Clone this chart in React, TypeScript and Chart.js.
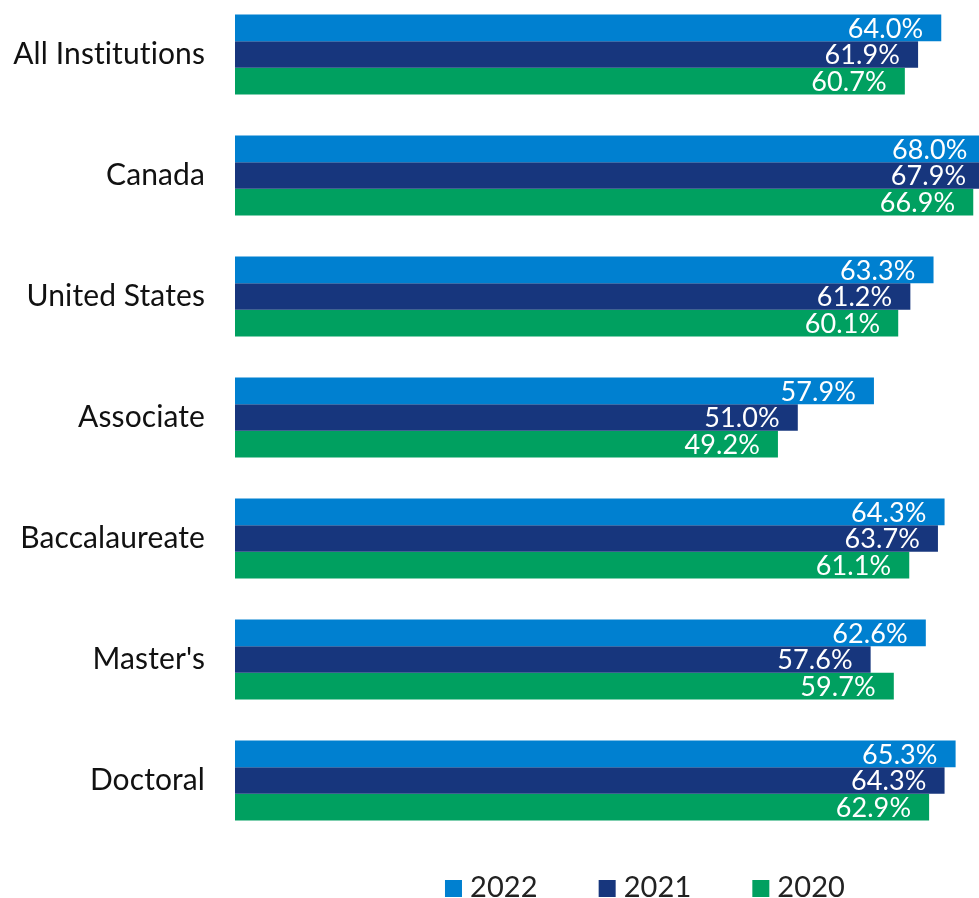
import React, { useEffect, useRef } from "react";
import { Chart, registerables } from "chart.js";

Chart.register(...registerables);

const categories = ["All Institutions", "Canada", "United States", "Associate", "Baccalaureate", "Master's", "Doctoral"];
const series2022 = [64.0, 68.0, 63.3, 57.9, 64.3, 62.6, 65.3];
const series2021 = [61.9, 67.9, 61.2, 51.0, 63.7, 57.6, 64.3];
const series2020 = [60.7, 66.9, 60.1, 49.2, 61.1, 59.7, 62.9];
const seriesNames = ["2022", "2021", "2020"];
const seriesColors = ["#0080D0", "#17367D", "#00A060"];

const FONT = "Lato, 'Open Sans', sans-serif";

const noLigatures = {
  id: "noLigatures",
  beforeDraw(chart: any) {
    const ctx = chart.ctx as any;
    ctx.textRendering = "optimizeSpeed";
    ctx.letterSpacing = "0.1px";
  },
};

const valueLabels = {
  id: "valueLabels",
  afterDatasetsDraw(chart: any) {
    const ctx = chart.ctx;
    ctx.save();
    ctx.font = `27px ${FONT}`;
    ctx.fillStyle = "#ffffff";
    ctx.textAlign = "right";
    ctx.textBaseline = "middle";
    chart.data.datasets.forEach((ds: any, i: number) => {
      const meta = chart.getDatasetMeta(i);
      meta.data.forEach((el: any, j: number) => {
        ctx.fillText(ds.data[j].toFixed(1) + "%", el.x - 18, el.y + 1);
      });
    });
    ctx.restore();
  },
};

const bottomLegend = {
  id: "bottomLegend",
  afterDraw(chart: any, _args: any, opts: any) {
    const ctx = chart.ctx;
    ctx.save();
    ctx.font = `29px ${FONT}`;
    ctx.textBaseline = "alphabetic";
    ctx.textAlign = "left";
    const box = 17;
    const boxGap = 8;
    const itemGap = opts.itemGap;
    const widths = chart.data.datasets.map((ds: any) => box + boxGap + ctx.measureText(ds.label).width);
    const total = widths.reduce((a: number, b: number) => a + b, 0) + itemGap * (widths.length - 1);
    let x = opts.centerX - total / 2;
    const base = chart.height - opts.bottom;
    chart.data.datasets.forEach((ds: any, i: number) => {
      ctx.fillStyle = ds.backgroundColor;
      ctx.fillRect(x, base - box, box, box);
      ctx.fillStyle = "#222222";
      ctx.fillText(ds.label, x + box + boxGap, base);
      x += widths[i] + itemGap;
    });
    ctx.restore();
  },
};

export default function App() {
  const ref = useRef<HTMLCanvasElement>(null);
  useEffect(() => {
    const chart = new Chart(ref.current!, {
      type: "bar",
      data: {
        labels: categories,
        datasets: [series2022, series2021, series2020].map((d, i) => ({
          label: seriesNames[i],
          data: d,
          backgroundColor: seriesColors[i],
          borderWidth: 0,
          categoryPercentage: 0.66,
          barPercentage: 1,
        })),
      },
      options: {
        indexAxis: "y",
        responsive: false,
        animation: false,
        layout: { padding: { top: 0, right: 0, left: 0, bottom: 57 } },
        plugins: {
          legend: { display: false },
          tooltip: { enabled: false },
          bottomLegend: { centerX: 645, itemGap: 61, bottom: 1 },
        } as any,
        scales: {
          x: { display: false, min: 0, max: 67.42 },
          y: {
            grid: { display: false },
            border: { display: false },
            ticks: { color: "#111111", font: { size: 30, family: FONT }, padding: 22 },
            afterFit: (s: any) => { s.width = 235; },
          },
        },
      },
      plugins: [noLigatures, valueLabels, bottomLegend],
    });
    return () => chart.destroy();
  }, []);
  return (
    <div style={{ position: "fixed", left: 0, top: -46, width: 979, height: 944, overflow: "hidden", background: "#fff" }}>
      <canvas ref={ref} width={979} height={944} style={{ display: "block", fontVariantLigatures: "none" } as any} />
    </div>
  );
}
